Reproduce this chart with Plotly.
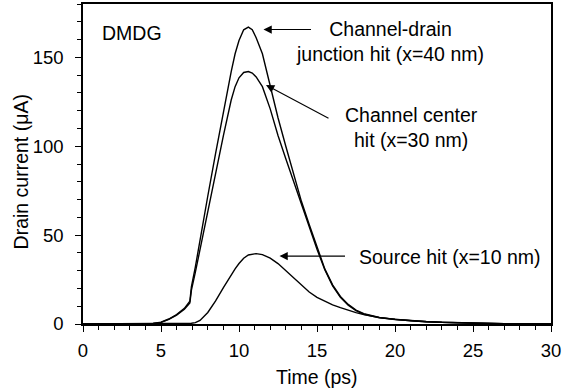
import plotly.graph_objects as go

# ---- data ----
time_ps = [0, 1, 2, 3, 4, 4.5, 5, 5.5, 6, 6.5, 6.85, 6.95, 7.2, 7.5, 8, 8.5, 9, 9.5,
           9.75, 10, 10.3, 10.6, 10.85, 11.1, 11.5, 12, 12.5, 13, 13.5, 14, 14.5, 15,
           15.5, 16, 16.5, 17, 17.5, 18, 19, 20, 21, 22, 23, 25, 27, 30]

junction_hit = [0, 0, 0, 0, 0.1, 0.3, 1.0, 2.8, 5.3, 8.8, 12.8, 21, 32, 47.5, 72, 96, 120, 142,
                152, 159.5, 165.5, 167, 165.5, 161, 152, 134, 116, 100, 84, 69, 56, 43,
                31, 22, 15.5, 11, 7.8, 5.8, 3.7, 2.6, 1.9, 1.4, 1.0, 0.5, 0.2, 0]

center_hit = [0, 0, 0, 0, 0.1, 0.3, 0.9, 2.6, 5.0, 8.3, 11.8, 19, 29, 42, 63, 84, 106, 126,
              133.5, 138.5, 141.5, 142, 141.2, 139, 133.5, 121, 106, 93, 80, 67, 55, 42,
              30.5, 21.5, 15, 10.5, 7.5, 5.5, 3.5, 2.5, 1.8, 1.3, 0.9, 0.45, 0.2, 0]

source_hit = [0, 0, 0, 0, 0, 0, 0, 0, 0, 0.1, 0.3, 0.4, 0.8, 2.0, 6.5, 13, 20.5, 28,
              31, 34, 37, 38.8, 39.4, 39.6, 39, 37, 34, 30, 25.5, 21.5, 18, 15,
              12.8, 10.8, 9.2, 7.7, 6.4, 5.3, 3.6, 2.5, 1.8, 1.3, 0.9, 0.45, 0.2, 0]

x_ticks = [0, 5, 10, 15, 20, 25, 30]
y_ticks = [0, 50, 100, 150]

FONT = "Arial, Liberation Sans, sans-serif"
W, H = 575, 392
L, R, T, B = 83, 24, 2, 68
PW, PH = W - L - R, H - T - B
XR, YR = (0, 30), (0, 180)


def dx(px):
    return XR[0] + (px - L) / PW * (XR[1] - XR[0])


def dy(py):
    return YR[0] + (T + PH - py) / PH * (YR[1] - YR[0])


fig = go.Figure()
for name, ys in [("Channel-drain junction hit", junction_hit),
                 ("Channel center hit", center_hit),
                 ("Source hit", source_hit)]:
    fig.add_trace(go.Scatter(x=time_ps, y=ys, mode="lines", name=name,
                             line=dict(color="black", width=1.4), showlegend=False))

ann = []
txt = dict(showarrow=False, font=dict(family=FONT, size=19.5, color="black"))
ann.append(dict(x=dx(100), y=dy(31.5), text="DMDG", xanchor="left", yanchor="middle", **txt))
ann.append(dict(x=dx(390), y=dy(40), text="Channel-drain<br>junction hit (x=40 nm)",
                xanchor="center", yanchor="middle", **txt))
ann.append(dict(x=dx(411), y=dy(126.5), text="Channel center<br>hit (x=30 nm)",
                xanchor="center", yanchor="middle", **txt))
ann.append(dict(x=dx(357), y=dy(256.5), text="Source hit (x=10 nm)",
                xanchor="left", yanchor="middle", **txt))

arr = dict(showarrow=True, arrowhead=2, arrowsize=1.5, arrowwidth=1.1,
           arrowcolor="black", standoff=0, text="", axref="pixel", ayref="pixel")
ann.append(dict(x=dx(263.5), y=dy(27.7), ax=49, ay=0, **arr))
ann.append(dict(x=dx(266), y=dy(83.5), ax=64, ay=34, **arr))
ann.append(dict(x=dx(279.5), y=dy(255.7), ax=67, ay=0, **arr))

# axis titles
ann.append(dict(xref="paper", yref="paper", x=0.5, y=(H - B - 377) / PH,
                text="Time (ps)", xanchor="center", yanchor="middle", **txt))
ann.append(dict(xref="paper", yref="paper", x=(20.5 - L) / PW, y=(H - B - 171) / PH,
                text="Drain current (μA)", textangle=-90,
                xanchor="center", yanchor="middle", **txt))

fig.update_layout(
    width=W, height=H,
    margin=dict(l=L, r=R, t=T, b=B),
    paper_bgcolor="white", plot_bgcolor="white",
    font=dict(family=FONT, size=18, color="black"),
    annotations=ann,
)
fig.update_xaxes(range=list(XR), tickvals=x_ticks, ticktext=[str(v) for v in x_ticks],
                 showgrid=False, zeroline=False, showline=True, linecolor="black",
                 linewidth=1.5, mirror=True, ticks="outside", ticklen=6, tickwidth=1.2,
                 tickcolor="black", ticklabelstandoff=3,
                 minor=dict(dtick=1, ticks="outside", ticklen=4, tickwidth=1.2,
                            tickcolor="black", showgrid=False),
                 tickfont=dict(family=FONT, size=18.5))
fig.update_yaxes(range=list(YR), tickvals=y_ticks, ticktext=[str(v) for v in y_ticks],
                 showgrid=False, zeroline=False, showline=True, linecolor="black",
                 linewidth=1.5, mirror=True, ticks="outside", ticklen=6, tickwidth=1.2,
                 tickcolor="black", ticklabelstandoff=8,
                 minor=dict(dtick=10, ticks="outside", ticklen=4, tickwidth=1.2,
                            tickcolor="black", showgrid=False),
                 tickfont=dict(family=FONT, size=18.5))

fig.write_html("out.html", config={"displayModeBar": False},
               post_script="document.body.style.margin='0';document.body.style.overflow='hidden';")
